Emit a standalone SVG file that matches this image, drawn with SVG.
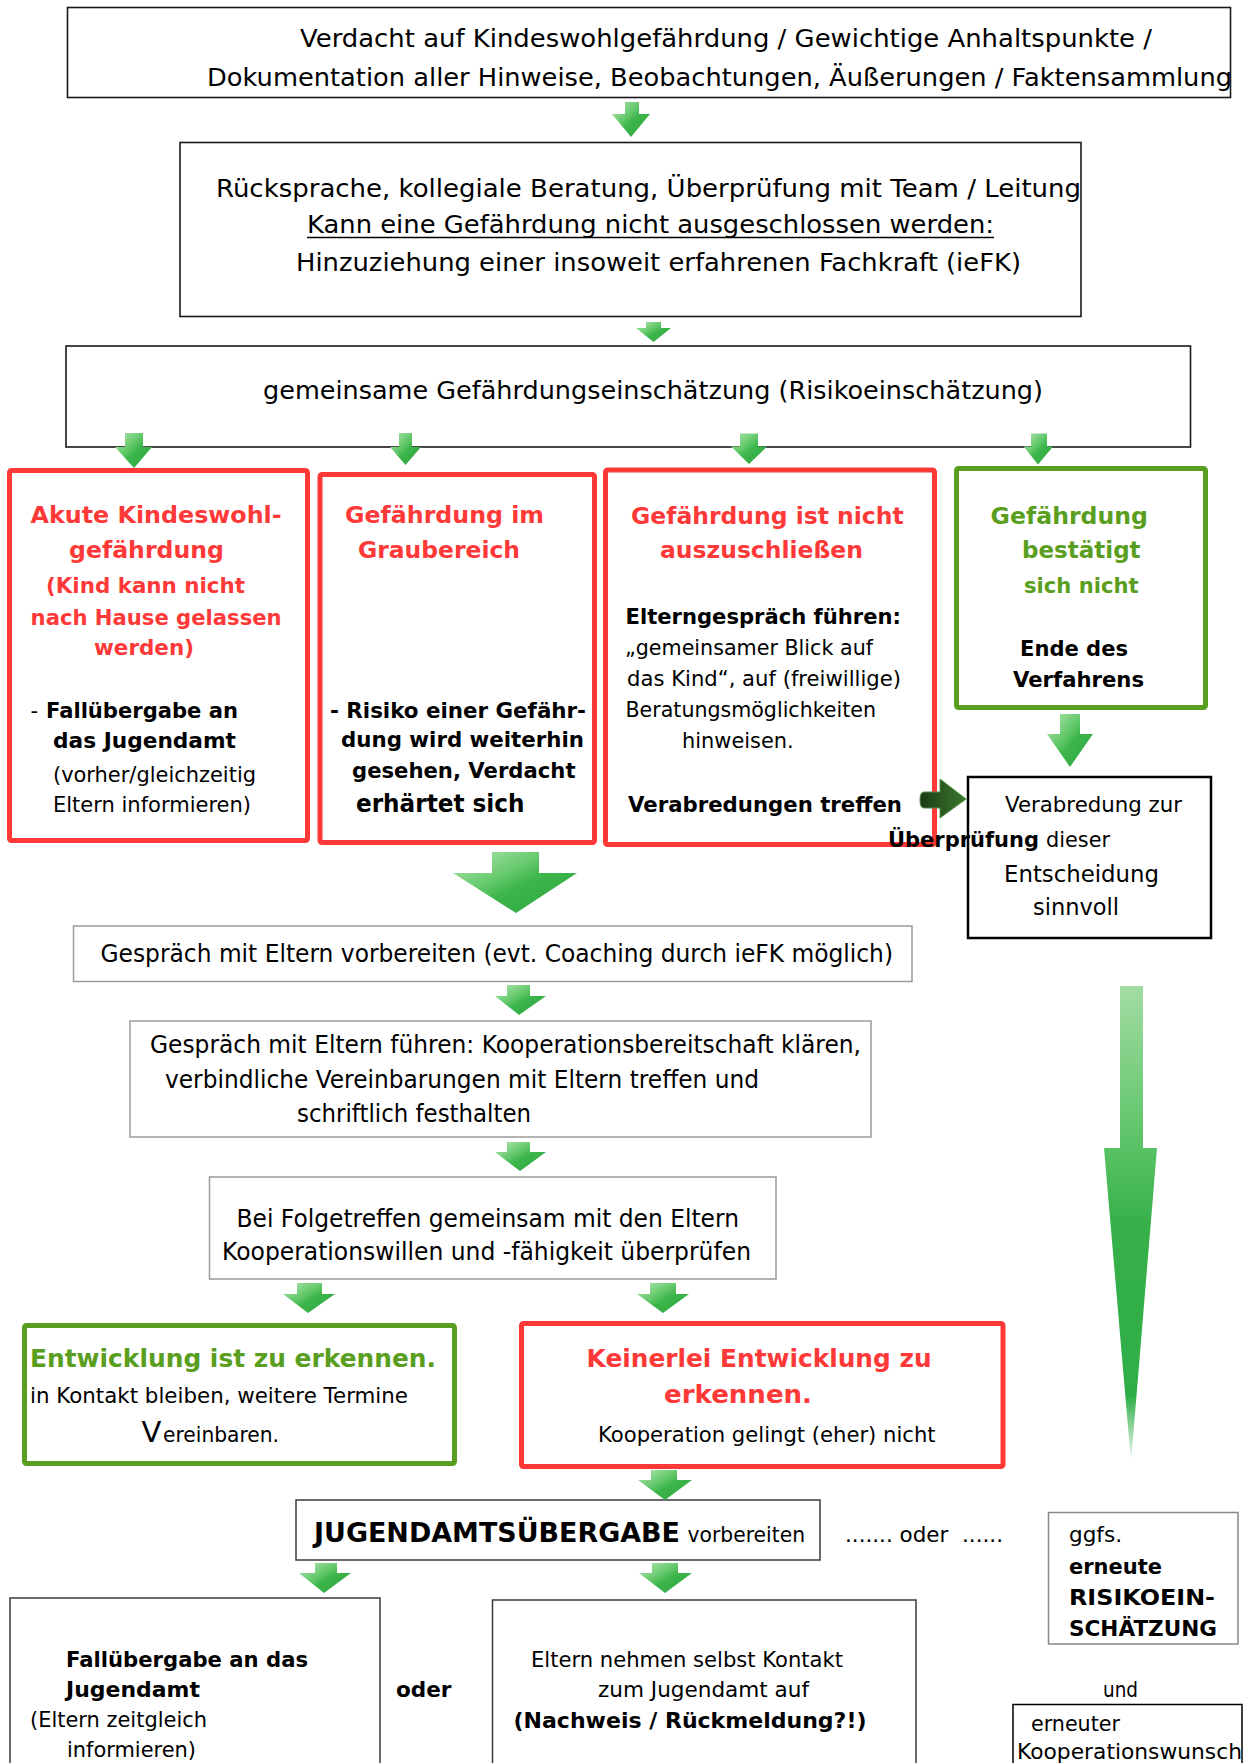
<svg xmlns="http://www.w3.org/2000/svg" width="1246" height="1763" viewBox="0 0 1246 1763">
<style>
text{font-family:"DejaVu Sans",Verdana,sans-serif;fill:#000}
.b{font-weight:bold}
.red{fill:#ff3838}
.grn{fill:#5a9e20}
.s25{font-size:25px}
.s24{font-size:24px}
.s235{font-size:23.5px}
.s23{font-size:23px}
.s22{font-size:22px}
.s215{font-size:21.5px}
.s21{font-size:21px}
.s27{font-size:27px}
.box{fill:#fff;stroke:#1a1a1a;stroke-width:1.6}
.gbox{fill:#fff;stroke:#9a9a9a;stroke-width:1.5}
.dbox{fill:#fff;stroke:#3a3a3a;stroke-width:1.5}
.rbox{fill:#fff;stroke:#ff3838;stroke-width:5}
.gnbox{fill:#fff;stroke:#5a9e20;stroke-width:5}
.arr{fill:url(#ag)}
</style>
<defs>
<linearGradient id="ag" x1="0" y1="0" x2="1" y2="1">
<stop offset="0" stop-color="#b8e8b4"/>
<stop offset="0.4" stop-color="#62c86a"/>
<stop offset="0.55" stop-color="#3cb54a"/>
<stop offset="1" stop-color="#2ea542"/>
</linearGradient>
<linearGradient id="tg" x1="0" y1="0" x2="0" y2="1">
<stop offset="0" stop-color="#a2dca2"/>
<stop offset="0.3" stop-color="#62c66c"/>
<stop offset="0.5" stop-color="#36b04b"/>
<stop offset="0.86" stop-color="#2fae47"/>
<stop offset="1" stop-color="#2fae47" stop-opacity="0.05"/>
</linearGradient>
<linearGradient id="dg" x1="0" y1="0" x2="1" y2="0">
<stop offset="0" stop-color="#1b3a15"/>
<stop offset="1" stop-color="#3b7a2e"/>
</linearGradient>
</defs>

<g id="n1">
<rect class="box" x="67.5" y="7.5" width="1163" height="90"/>
<text class="s25" x="300" y="47" textLength="852" lengthAdjust="spacingAndGlyphs">Verdacht auf Kindeswohlgefährdung / Gewichtige Anhaltspunkte /</text>
<text class="s25" x="207" y="86" textLength="1025" lengthAdjust="spacingAndGlyphs">Dokumentation aller Hinweise, Beobachtungen, Äußerungen / Faktensammlung</text>
</g>

<g id="n2">
<rect class="box" x="180" y="142.5" width="901" height="174"/>
<text class="s25" x="216" y="197" textLength="865" lengthAdjust="spacingAndGlyphs">Rücksprache, kollegiale Beratung, Überprüfung mit Team / Leitung</text>
<text class="s25" x="307" y="233" textLength="687" lengthAdjust="spacingAndGlyphs">Kann eine Gefährdung nicht ausgeschlossen werden:</text>
<line x1="307" y1="237.5" x2="994" y2="237.5" stroke="#000" stroke-width="1.6"/>
<text class="s25" x="296" y="271" textLength="725" lengthAdjust="spacingAndGlyphs">Hinzuziehung einer insoweit erfahrenen Fachkraft (ieFK)</text>
</g>

<g id="n3">
<rect class="box" x="66" y="346" width="1124.5" height="101"/>
<text class="s25" x="263" y="399" textLength="780" lengthAdjust="spacingAndGlyphs">gemeinsame Gefährdungseinschätzung (Risikoeinschätzung)</text>
</g>

<g id="n4">
<rect class="rbox" x="9.5" y="470.5" width="298" height="370" rx="2"/>
<text class="b red s235" x="30.6" y="523" textLength="251" lengthAdjust="spacingAndGlyphs">Akute Kindeswohl-</text>
<text class="b red s235" x="69" y="558" textLength="155" lengthAdjust="spacingAndGlyphs">gefährdung</text>
<text class="b red s215" x="46" y="593" textLength="199" lengthAdjust="spacingAndGlyphs">(Kind kann nicht</text>
<text class="b red s215" x="30.6" y="625" textLength="251" lengthAdjust="spacingAndGlyphs">nach Hause gelassen</text>
<text class="b red s215" x="94" y="655" textLength="100" lengthAdjust="spacingAndGlyphs">werden)</text>
<text class="s21" x="30.6" y="718">-</text>
<text class="b s21" x="46" y="718" textLength="192" lengthAdjust="spacingAndGlyphs">Fallübergabe an</text>
<text class="b s21" x="53" y="748" textLength="183" lengthAdjust="spacingAndGlyphs">das Jugendamt</text>
<text class="s21" x="53" y="782" textLength="203" lengthAdjust="spacingAndGlyphs">(vorher/gleichzeitig</text>
<text class="s21" x="53" y="812" textLength="198" lengthAdjust="spacingAndGlyphs">Eltern informieren)</text>
</g>

<g id="n5">
<rect class="rbox" x="320" y="474.5" width="274.5" height="368" rx="2"/>
<text class="b red s235" x="345" y="523" textLength="199" lengthAdjust="spacingAndGlyphs">Gefährdung im</text>
<text class="b red s235" x="358" y="558" textLength="162" lengthAdjust="spacingAndGlyphs">Graubereich</text>
<text class="b s215" x="330" y="718" textLength="256" lengthAdjust="spacingAndGlyphs">- Risiko einer Gefähr-</text>
<text class="b s215" x="341" y="747" textLength="243" lengthAdjust="spacingAndGlyphs">dung wird weiterhin</text>
<text class="b s215" x="352" y="778" textLength="223.5" lengthAdjust="spacingAndGlyphs">gesehen, Verdacht</text>
<text class="b s24" x="356" y="812" textLength="168.5" lengthAdjust="spacingAndGlyphs">erhärtet sich</text>
</g>

<g id="n6">
<rect class="rbox" x="605.5" y="470" width="329" height="374.5" rx="2"/>
<text class="b red s235" x="631" y="524" textLength="272.7" lengthAdjust="spacingAndGlyphs">Gefährdung ist nicht</text>
<text class="b red s235" x="660" y="558" textLength="203" lengthAdjust="spacingAndGlyphs">auszuschließen</text>
<text class="b s21" x="625.5" y="624" textLength="275.5" lengthAdjust="spacingAndGlyphs">Elterngespräch führen:</text>
<text class="s21" x="625" y="655" textLength="248" lengthAdjust="spacingAndGlyphs">„gemeinsamer Blick auf</text>
<text class="s21" x="627" y="686" textLength="274" lengthAdjust="spacingAndGlyphs">das Kind“, auf (freiwillige)</text>
<text class="s21" x="625.5" y="717" textLength="250.5" lengthAdjust="spacingAndGlyphs">Beratungsmöglichkeiten</text>
<text class="s21" x="682" y="748" textLength="111.7" lengthAdjust="spacingAndGlyphs">hinweisen.</text>
<text class="b s21" x="628" y="812" textLength="274" lengthAdjust="spacingAndGlyphs">Verabredungen treffen</text>
</g>

<g id="n7">
<rect class="gnbox" x="956.5" y="468.5" width="249" height="239" rx="2"/>
<text class="b grn s235" x="990.6" y="524" textLength="157.4" lengthAdjust="spacingAndGlyphs">Gefährdung</text>
<text class="b grn s235" x="1022" y="558" textLength="118.6" lengthAdjust="spacingAndGlyphs">bestätigt</text>
<text class="b grn s215" x="1024" y="593" textLength="114.5" lengthAdjust="spacingAndGlyphs">sich nicht</text>
<text class="b s21" x="1020" y="656" textLength="108" lengthAdjust="spacingAndGlyphs">Ende des</text>
<text class="b s21" x="1013" y="687" textLength="131" lengthAdjust="spacingAndGlyphs">Verfahrens</text>
</g>

<g id="n8">
<rect x="968" y="777" width="243" height="161" fill="#fff" stroke="#000" stroke-width="2.5"/>
<text class="s21" x="1005" y="812" textLength="177" lengthAdjust="spacingAndGlyphs">Verabredung zur</text>
<text class="b s21" x="888" y="847" textLength="151" lengthAdjust="spacingAndGlyphs">Überprüfung</text>
<text class="s21" x="1046" y="847" textLength="64" lengthAdjust="spacingAndGlyphs">dieser</text>
<text class="s23" x="1004" y="882" textLength="155" lengthAdjust="spacingAndGlyphs">Entscheidung</text>
<text class="s23" x="1033" y="915" textLength="86" lengthAdjust="spacingAndGlyphs">sinnvoll</text>
</g>

<g id="n9">
<rect class="gbox" x="73.5" y="926" width="838.5" height="55.5"/>
<text class="s24" x="100.5" y="962" textLength="792.5" lengthAdjust="spacingAndGlyphs">Gespräch mit Eltern vorbereiten (evt. Coaching durch ieFK möglich)</text>
</g>

<g id="n10">
<rect class="gbox" x="130" y="1021" width="741" height="116"/>
<text class="s24" x="150" y="1053" textLength="711" lengthAdjust="spacingAndGlyphs">Gespräch mit Eltern führen: Kooperationsbereitschaft klären,</text>
<text class="s24" x="165" y="1088" textLength="594" lengthAdjust="spacingAndGlyphs">verbindliche Vereinbarungen mit Eltern treffen und</text>
<text class="s24" x="297" y="1122" textLength="234" lengthAdjust="spacingAndGlyphs">schriftlich festhalten</text>
</g>

<g id="n11">
<rect class="gbox" x="209.5" y="1177" width="566.5" height="102"/>
<text class="s24" x="236.5" y="1227" textLength="502.5" lengthAdjust="spacingAndGlyphs">Bei Folgetreffen gemeinsam mit den Eltern</text>
<text class="s24" x="222" y="1260" textLength="529" lengthAdjust="spacingAndGlyphs">Kooperationswillen und -fähigkeit überprüfen</text>
</g>

<g id="n12">
<rect class="gnbox" x="24.5" y="1325.5" width="430" height="138" rx="2"/>
<text class="b grn s25" x="30" y="1367" textLength="406" lengthAdjust="spacingAndGlyphs">Entwicklung ist zu erkennen.</text>
<text class="s22" x="30" y="1403" textLength="378" lengthAdjust="spacingAndGlyphs">in Kontakt bleiben, weitere Termine</text>
<text x="141.5" y="1442" style="font-size:29px">V</text>
<text class="s22" x="163" y="1442" textLength="116" lengthAdjust="spacingAndGlyphs">ereinbaren.</text>
</g>

<g id="n13">
<rect class="rbox" x="521.5" y="1323.5" width="481.5" height="143" rx="2"/>
<text class="b red s25" x="586.6" y="1367" textLength="345" lengthAdjust="spacingAndGlyphs">Keinerlei Entwicklung zu</text>
<text class="b red s25" x="664" y="1403" textLength="148" lengthAdjust="spacingAndGlyphs">erkennen.</text>
<text class="s22" x="598" y="1442" textLength="337.6" lengthAdjust="spacingAndGlyphs">Kooperation gelingt (eher) nicht</text>
</g>

<g id="n14">
<rect class="dbox" x="296" y="1500" width="524" height="60"/>
<text class="b s27" x="314" y="1542" textLength="366" lengthAdjust="spacingAndGlyphs">JUGENDAMTSÜBERGABE</text>
<text class="s22" x="687.6" y="1542" textLength="117.4" lengthAdjust="spacingAndGlyphs">vorbereiten</text>
</g>

<g id="n15">
<text class="s22" x="845" y="1542" textLength="158" lengthAdjust="spacingAndGlyphs" style="white-space:pre">....... oder  ......</text>
</g>

<g id="n16">
<rect class="gbox" x="1048.5" y="1512.5" width="189.5" height="131.5" style="stroke:#888"/>
<text class="s22" x="1069" y="1542" textLength="53" lengthAdjust="spacingAndGlyphs">ggfs.</text>
<text class="b s22" x="1069" y="1574" textLength="93" lengthAdjust="spacingAndGlyphs">erneute</text>
<text class="b s22" x="1069" y="1605" textLength="146" lengthAdjust="spacingAndGlyphs">RISIKOEIN-</text>
<text class="b s22" x="1069" y="1636" textLength="148" lengthAdjust="spacingAndGlyphs">SCHÄTZUNG</text>
</g>

<g id="n17">
<rect class="dbox" x="10" y="1598" width="370" height="200"/>
<text class="b s22" x="66" y="1667" textLength="242" lengthAdjust="spacingAndGlyphs">Fallübergabe an das</text>
<text class="b s22" x="66" y="1697" textLength="134" lengthAdjust="spacingAndGlyphs">Jugendamt</text>
<text class="s22" x="30" y="1727" textLength="177" lengthAdjust="spacingAndGlyphs">(Eltern zeitgleich</text>
<text class="s22" x="67" y="1757" textLength="129" lengthAdjust="spacingAndGlyphs">informieren)</text>
</g>

<g id="n18">
<text class="b s22" x="396" y="1697" textLength="55.5" lengthAdjust="spacingAndGlyphs">oder</text>
</g>

<g id="n19">
<rect class="dbox" x="492.5" y="1600" width="423.5" height="200"/>
<text class="s22" x="531" y="1667" textLength="312" lengthAdjust="spacingAndGlyphs">Eltern nehmen selbst Kontakt</text>
<text class="s22" x="598" y="1697" textLength="211" lengthAdjust="spacingAndGlyphs">zum Jugendamt auf</text>
<text class="b s22" x="513.5" y="1728" textLength="353" lengthAdjust="spacingAndGlyphs">(Nachweis / Rückmeldung?!)</text>
</g>

<g id="n20">
<text class="s22" x="1103" y="1697" textLength="35" lengthAdjust="spacingAndGlyphs">und</text>
</g>

<g id="n21">
<rect x="1013" y="1704.5" width="229" height="100" fill="#fff" stroke="#000" stroke-width="1.5"/>
<text class="s22" x="1031" y="1731" textLength="89" lengthAdjust="spacingAndGlyphs">erneuter</text>
<text class="s22" x="1017" y="1759" textLength="225" lengthAdjust="spacingAndGlyphs">Kooperationswunsch</text>
</g>

<g id="connectors">
<polygon class="arr" points="625,102 639,102 639,114 650,114 631,137 612,114 625,114"/>
<polygon class="arr" points="646,322 661,322 661,328 671,328 653.5,342 636,328 646,328"/>
<polygon class="arr" points="125,433 143,433 143,447 152,447 134,468 115,447 125,447"/>
<polygon class="arr" points="399,433 412,433 412,447 421,447 405.5,465 390,447 399,447"/>
<polygon class="arr" points="740,433.5 758,433.5 758,446.6 767,446.6 749,464 731,446.6 740,446.6"/>
<polygon class="arr" points="1031,433.5 1047,433.5 1047,446.6 1053,446.6 1038,464.4 1023.6,446.6 1031,446.6"/>
<polygon class="arr" points="1060,714 1080,714 1080,734 1093,734 1070,767 1047,734 1060,734"/>
<path d="M924,792 L940,792 L940,779 L966,799 L940,818 L940,808 L924,808 Q920,808 920,800 Q920,792 924,792 Z" fill="url(#dg)" stroke="#4f8f3e" stroke-width="1"/>
<polygon class="arr" points="492,852 539,852 539,873 577,873 516,913 453,873 492,873"/>
<polygon class="arr" points="507,985 530,985 530,996 546,996 519,1015 495,996 507,996"/>
<polygon class="arr" points="507,1142 530,1142 530,1152 546,1152 520,1171 495,1152 507,1152"/>
<polygon class="arr" points="297,1283 322,1283 322,1294 335,1294 308,1313 283,1294 297,1294"/>
<polygon class="arr" points="650,1283 676,1283 676,1294 689,1294 663,1313 637,1294 650,1294"/>
<polygon class="arr" points="651,1470 677,1470 677,1480 692,1480 665,1500 638,1480 651,1480"/>
<polygon class="arr" points="315,1563 337,1563 337,1573 351,1573 324,1593 299,1573 315,1573"/>
<polygon class="arr" points="652,1563 678,1563 678,1573 692,1573 665,1593 639,1573 652,1573"/>
<polygon fill="url(#tg)" points="1120,986 1143,986 1143,1148 1157,1148 1131,1462 1104,1148 1120,1148"/>
</g>
</svg>
